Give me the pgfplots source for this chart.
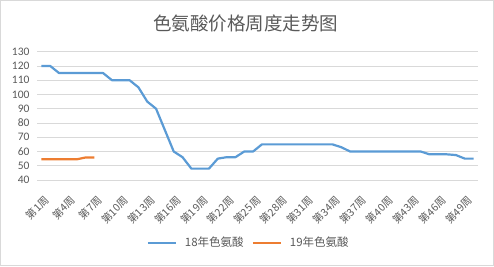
\documentclass[border=0pt]{standalone}
\usepackage{pgfplots}
\pgfplotsset{compat=1.18}
\usepackage{fontspec}
\setmainfont{Carlito}
\newfontfamily\cjk{Noto Sans CJK SC}
\definecolor{blueline}{HTML}{5B9BD5}
\definecolor{orangeline}{HTML}{ED7D31}
\definecolor{gridc}{HTML}{D9D9D9}
\definecolor{txt}{HTML}{595959}
\begin{document}
\begin{tikzpicture}
\useasboundingbox (0pt,0pt) rectangle (494pt,266pt);
\draw[gridc, line width=1pt] (0.5pt,0.5pt) rectangle (493.5pt,265.5pt);
\node[text=txt, font=\cjk\fontsize{18.5}{20}\selectfont] at (245.5pt,243pt) {色氨酸价格周度走势图};
\begin{axis}[
  at={(37pt,86pt)}, anchor=south west,
  scale only axis, width=441pt, height=128.3pt,
  xmin=0.5, xmax=50.5, ymin=40, ymax=130,
  ytick={40,50,...,130},
  xtick={1,4,...,49},
  xticklabels={第1周,第4周,第7周,第10周,第13周,第16周,第19周,第22周,第25周,第28周,第31周,第34周,第37周,第40周,第43周,第46周,第49周},
  ymajorgrids, grid style={gridc, line width=0.8pt},
  axis line style={draw=none},
  major tick length=0pt,
  /pgf/number format/assume math mode=true,
  yticklabel style={text=txt, font=\fontsize{11.5}{12}\selectfont, xshift=-4pt},
  xticklabel style={text=txt, font=\cjk\fontsize{10.5}{11}\selectfont, rotate=45, anchor=north east, inner sep=1pt, yshift=-11pt, xshift=-8pt},
  legend style={draw=none, fill=none, at={(0.48,-0.49)}, anchor=center, legend columns=2, font=\cjk\fontsize{11.5}{12}\selectfont, text=txt, column sep=6pt, nodes={inner sep=2pt}},
  legend image code/.code={\draw[#1, line width=2.2pt] (0pt,0pt) -- (28pt,0pt);},
]
\addplot[blueline, line width=2.2pt, line join=round] coordinates {
(1,120)(2,120)(3,115)(4,115)(5,115)(6,115)(7,115)(8,115)(9,110)(10,110)
(11,110)(12,105)(13,95)(14,90)(15,75)(16,60)(17,56)(18,48)(19,48)(20,48)
(21,55)(22,56)(23,56)(24,60)(25,60)(26,65)(27,65)(28,65)(29,65)(30,65)
(31,65)(32,65)(33,65)(34,65)(35,63)(36,60)(37,60)(38,60)(39,60)(40,60)
(41,60)(42,60)(43,60)(44,60)(45,58)(46,58)(47,58)(48,57.5)(49,55)(50,55)
};
\addlegendentry{18年色氨酸}
\addplot[orangeline, line width=2.2pt, line join=round] coordinates {
(1,54.5)(2,54.5)(3,54.5)(4,54.5)(5,54.5)(6,55.8)(7,55.8)
};
\addlegendentry{19年色氨酸}
\end{axis}
\end{tikzpicture}
\end{document}
